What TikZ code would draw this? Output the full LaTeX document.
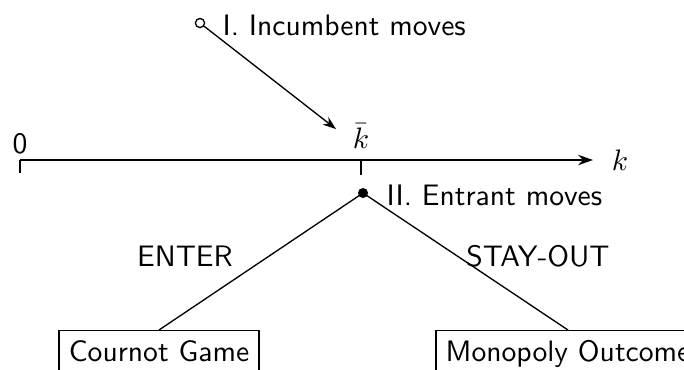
\documentclass[tikz,border=0pt]{standalone}
\usetikzlibrary{arrows.meta}
\renewcommand{\familydefault}{\sfdefault}
\begin{document}
\begin{tikzpicture}[x=0.338pt,y=-0.338pt,
  lbl/.style={inner sep=0pt,font=\sffamily},
  outcome/.style={draw,line width=0.4pt,anchor=north,inner sep=3.3pt,font=\sffamily},
  thinline/.style={line width=0.45pt},
  axis/.style={line width=0.75pt}]
\useasboundingbox (0,0) rectangle (684,369);
% incumbent
\node[circle,draw,inner sep=0pt,minimum size=3.1pt,line width=0.45pt] (inc) at (200,23) {};
\node[lbl,anchor=west] (inclbl) at (222,25) {I. Incumbent moves};
\coordinate (kbarpt) at (336,129);
\draw[thinline,-{Stealth[length=4.5pt,width=3.2pt]}] (inc) -- (kbarpt);
% axis
\coordinate (ax0) at (20,160);
\coordinate (ax0b) at (20,173);
\coordinate (axend) at (593,160);
\coordinate (kb) at (361,160);
\coordinate (kbb) at (361,175);
\draw[axis] (ax0b) -- (ax0);
\draw[axis,-{Stealth[length=5pt,width=3.5pt]}] (ax0) -- (axend);
\draw[axis] (kb) -- (kbb);
\node[lbl] (zero) at (20,144) {0};
\node[lbl] (kbar) at (361,136) {$\bar{k}$};
\node[lbl] (klbl) at (620,160) {$k$};
% entrant
\node[circle,fill,inner sep=0pt,minimum size=3.4pt] (ent) at (363,193) {};
\node[lbl,anchor=west] (entlbl) at (386,195) {II. Entrant moves};
\node[outcome] (cournot) at (159,330) {Cournot Game};
\node[outcome] (mono) at (568,330) {Monopoly Outcome};
\draw[thinline] (ent.center) -- (cournot.north);
\draw[thinline] (ent.center) -- (mono.north);
\node[lbl] (enter) at (185,256) {ENTER};
\node[lbl] (stay) at (538,256) {STAY-OUT};
\end{tikzpicture}
\end{document}
